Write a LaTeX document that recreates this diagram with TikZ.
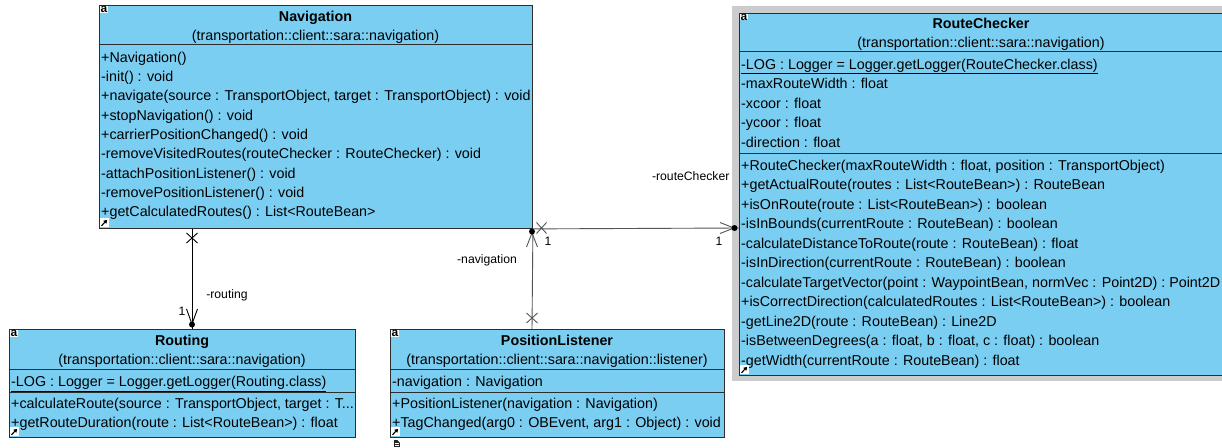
\documentclass[tikz,border=0pt]{standalone}
\usepackage{fontspec}
\setmainfont{Liberation Sans}
\usetikzlibrary{arrows.meta}
\definecolor{classfill}{RGB}{122,206,242}
\definecolor{classline}{RGB}{45,45,45}
\definecolor{selgray}{RGB}{204,204,204}
\definecolor{linkgray}{RGB}{85,85,85}

\newcommand{\membersize}{\fontsize{14.3}{17}\selectfont}
\newcommand{\rolesize}{\fontsize{12.2}{14}\selectfont}

\begin{document}
\begin{tikzpicture}[x=1pt,y=-1pt,
  classbox/.style={draw=classline, fill=classfill, line width=0.9pt, inner sep=0, anchor=north west},
  member/.style={anchor=base west, inner sep=0, font=\membersize},
  cname/.style={anchor=base, inner sep=0, font=\membersize\bfseries},
  pkg/.style={anchor=base, inner sep=0, font=\membersize},
  rolelabel/.style={anchor=base, inner sep=0, font=\rolesize},
  divider/.style={draw=classline, line width=0.9pt},
  link/.style={draw=linkgray, line width=0.9pt},
  linkdark/.style={draw=black, line width=0.9pt},
  abadge/.style={anchor=north west, fill=white, inner xsep=0.4pt, inner ysep=0.2pt, font=\fontsize{12}{12}\selectfont\bfseries},
  endmark/.style={line width=0.9pt}
]
\useasboundingbox (0,0) rectangle (1222,447);
\fill[white] (0,0) rectangle (1222,447);

% ---------------- Navigation ----------------
\node[classbox, minimum width=433pt, minimum height=223pt] (nav) at (99,5) {};
\node[cname] (nav-t) at (315.5,21) {Navigation};
\node[pkg] (nav-p) at (315.5,40) {(transportation::client::sara::navigation)};
\draw[divider] (99,44) -- (532,44);
\foreach \txt [count=\i from 0] in {
  {+Navigation()},
  {-init() : void},
  {+navigate(source : TransportObject, target : TransportObject) : void},
  {+stopNavigation() : void},
  {+carrierPositionChanged() : void},
  {-removeVisitedRoutes(routeChecker : RouteChecker) : void},
  {-attachPositionListener() : void},
  {-removePositionListener() : void},
  {+getCalculatedRoutes() : List<RouteBean>}}
  \node[member] (nav-m\i) at (101,{62+19.35*\i}) {\txt};
\node[abadge] (nav-a) at (100,5.6) {a};
\fill[white] (100,218) rectangle (109,227);
\draw[line width=1.1pt, -{Triangle[length=3.5pt,width=4pt]}] (101.5,225.8) -- (107.2,219.8);

% ---------------- RouteChecker (selected) ----------------
\fill[selgray] (732,6) rectangle (1240,381);
\node[classbox, minimum width=484pt, minimum height=362.3pt] (rc) at (739,12.7) {};
\node[cname] (rc-t) at (981,28) {RouteChecker};
\node[pkg] (rc-p) at (981,47) {(transportation::client::sara::navigation)};
\draw[divider] (739,51.7) -- (1223,51.7);
\draw[divider] (739,153.3) -- (1223,153.3);
\foreach \txt [count=\i from 0] in {
  {\underline{-LOG : Logger = Logger.getLogger(RouteChecker.class)}},
  {-maxRouteWidth : float},
  {-xcoor : float},
  {-ycoor : float},
  {-direction : float}}
  \node[member] (rc-f\i) at (741,{69+19.5*\i}) {\txt};
\foreach \txt [count=\i from 0] in {
  {+RouteChecker(maxRouteWidth : float, position : TransportObject)},
  {+getActualRoute(routes : List<RouteBean>) : RouteBean},
  {+isOnRoute(route : List<RouteBean>) : boolean},
  {-isInBounds(currentRoute : RouteBean) : boolean},
  {-calculateDistanceToRoute(route : RouteBean) : float},
  {-isInDirection(currentRoute : RouteBean) : boolean},
  {-calculateTargetVector(point : WaypointBean, normVec : Point2D) : Point2D},
  {+isCorrectDirection(calculatedRoutes : List<RouteBean>) : boolean},
  {-getLine2D(route : RouteBean) : Line2D},
  {-isBetweenDegrees(a : float, b : float, c : float) : boolean},
  {-getWidth(currentRoute : RouteBean) : float}}
  \node[member] (rc-m\i) at (741,{170+19.5*\i}) {\txt};
\node[abadge] (rc-a) at (740,13.3) {a};
\fill[white] (740,365) rectangle (749,374);
\draw[line width=1.1pt, -{Triangle[length=3.5pt,width=4pt]}] (741.5,372.8) -- (747.2,366.8);

% ---------------- Routing ----------------
\node[classbox, minimum width=346pt, minimum height=108pt] (rout) at (9,329) {};
\node[cname] (rout-t) at (182,345) {Routing};
\node[pkg] (rout-p) at (182,364) {(transportation::client::sara::navigation)};
\draw[divider] (9,369) -- (355,369);
\node[member] (rout-f0) at (11,386.5) {\underline{-LOG : Logger = Logger.getLogger(Routing.class)}};
\draw[divider] (9,392) -- (355,392);
\node[member] (rout-m0) at (11,408) {+calculateRoute(source : TransportObject, target : T...};
\node[member] (rout-m1) at (11,427) {+getRouteDuration(route : List<RouteBean>) : float};
\node[abadge] (rout-a) at (10,329.6) {a};
\fill[white] (10,427) rectangle (19,436);
\draw[line width=1.1pt, -{Triangle[length=3.5pt,width=4pt]}] (11.5,434.8) -- (17.2,428.8);

% ---------------- PositionListener ----------------
\node[classbox, minimum width=334pt, minimum height=108pt] (pl) at (390,329) {};
\node[cname] (pl-t) at (557,345) {PositionListener};
\node[pkg] (pl-p) at (557,364) {(transportation::client::sara::navigation::listener)};
\draw[divider] (390,369) -- (724,369);
\node[member] (pl-f0) at (392,386.5) {-navigation : Navigation};
\draw[divider] (390,392) -- (724,392);
\node[member] (pl-m0) at (392,408) {+PositionListener(navigation : Navigation)};
\node[member] (pl-m1) at (392,427) {+TagChanged(arg0 : OBEvent, arg1 : Object) : void};
\node[abadge] (pl-a) at (391,329.6) {a};
\fill[white] (391,427) rectangle (400,436);
\draw[line width=1.1pt, -{Triangle[length=3.5pt,width=4pt]}] (392.5,434.8) -- (398.2,428.8);
% small document badge under the class
\fill[black!85] (393.5,440) rectangle (400,447);
\fill[white] (397.5,440) -- (400,442.5) -- (400,440) -- cycle;
\draw[white, line width=0.6pt] (395,443.5) -- (398.5,443.5) (395,445.3) -- (398.5,445.3);

% ---------------- Associations ----------------
% Navigation -> Routing
\coordinate (rx) at (192,0);
\draw[linkdark] (nav.south -| rx) -- (rout.north -| rx);
\draw[endmark] (186.5,233) -- (197.5,243) (186.5,243) -- (197.5,233);
\draw[endmark] (186.5,309) -- (192,324) -- (197.5,309);
\fill (192,324.5) circle (3);
\node[rolelabel] (rout-mult) at (182,315) {1};
\node[rolelabel] (rout-role) at (227,298) {-routing};

% PositionListener -> Navigation
\coordinate (px) at (532,0);
\draw[link] (pl.north -| px) -- (nav.south east);
\draw[endmark, linkgray] (526.5,313) -- (537.5,323) (526.5,323) -- (537.5,313);
\draw[endmark, linkgray] (526.5,247) -- (532,233) -- (537.5,247);
\fill (532,231.5) circle (3);
\node[rolelabel] (nav-mult) at (548,245.5) {1};
\node[rolelabel] (nav-role) at (487,263) {-navigation};

% Navigation -> RouteChecker
\coordinate (hy) at (0,228);
\draw[link] (nav.south east) -- (rc.west |- hy);
\draw[endmark, linkgray] (536.5,222.5) -- (546.5,233.5) (536.5,233.5) -- (546.5,222.5);
\draw[endmark, linkgray] (720,222.5) -- (734,228) -- (720,233.5);
\fill (734.5,228) circle (3);
\node[rolelabel] (rc-mult) at (719,245.5) {1};
\node[rolelabel] (rc-role) at (690.7,180) {-routeChecker};
\end{tikzpicture}
\end{document}
